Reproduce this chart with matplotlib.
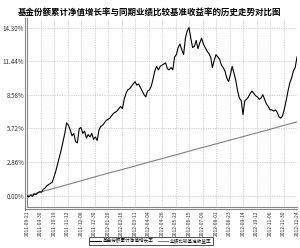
import numpy as np
import matplotlib
matplotlib.use("Agg")
import matplotlib.pyplot as plt
from matplotlib.lines import Line2D
import matplotlib.transforms as mtransforms

plt.rcParams['font.family'] = ['Noto Sans CJK SC', 'DejaVu Sans']

# trading-day index of every value below (one value every 2 trading days)
STEP = 2

# cumulative NAV growth of the fund share, %
fund = [
    0.00, -0.10, 0.05, -0.05, 0.15, 0.10, 0.25, 0.35, 0.30, 0.55,
    0.65, 0.85, 0.95, 1.05, 1.15, 1.6, 2.1, 2.7, 3.3, 3.9,
    4.6, 5.3, 6.2, 6.0, 5.6, 5.1, 5.3, 4.6, 4.5, 5.7,
    5.8, 5.3, 5.5, 4.9, 5.2, 5.0, 5.3, 4.8, 5.0, 4.7,
    5.6, 5.9, 6.0, 6.2, 6.4, 6.5, 6.6, 6.8, 7.0, 7.1,
    7.2, 7.4, 7.6, 7.4, 8.2, 8.7, 9.0, 9.1, 9.3, 9.5,
    9.7, 9.4, 9.5, 9.2, 8.9, 8.6, 8.4, 8.9, 9.0, 9.3,
    9.9, 10.6, 11.0, 10.7, 11.0, 11.1, 11.2, 11.3, 10.8, 10.7,
    10.9, 10.7, 11.8, 12.0, 12.6, 12.9, 12.4, 12.0, 13.4, 14.0,
    14.30, 13.4, 12.6, 12.7, 13.2, 12.5, 13.0, 13.4, 12.9, 12.6,
    12.3, 12.1, 11.8, 10.9, 11.5, 12.0, 11.8, 11.6, 11.1, 10.9,
    10.6, 10.0, 9.7, 10.3, 11.0, 10.4, 9.8, 8.9, 8.3, 8.1,
    6.9, 8.1, 8.2, 8.4, 8.7, 8.9, 8.7, 8.5, 8.4, 8.2,
    8.3, 8.6, 8.2, 7.8, 7.6, 7.3, 7.3, 7.2, 7.3, 7.1,
    6.7, 6.6, 6.8, 7.4, 8.1, 8.9, 9.6, 10.0, 10.6, 10.9,
    11.8,
]

# benchmark return, %, read at every tick date
TICK_STEP = 15
bench = [0.00, 0.32, 0.63, 0.95, 1.27, 1.60, 1.92, 2.22, 2.53, 2.85,
         3.16, 3.47, 3.79, 4.10, 4.41, 4.72, 5.03, 5.34, 5.65, 5.97, 6.28]

tick_labels = [
    "2011-09-21", "2011-09-30", "2011-10-19", "2011-11-12", "2011-12-08",
    "2011-12-30", "2012-01-20", "2012-02-16", "2012-03-11", "2012-04-04",
    "2012-04-26", "2012-05-23", "2012-06-15", "2012-07-09", "2012-08-01",
    "2012-08-23", "2012-09-14", "2012-10-12", "2012-11-06", "2012-11-30",
    "2012-12-24",
]
y_ticks = [0.00, 2.86, 5.72, 8.58, 11.44, 14.30]

fund_x = np.arange(len(fund)) * STEP
bench_x = np.arange(len(bench)) * TICK_STEP
tick_x = np.arange(len(tick_labels)) * TICK_STEP

fig = plt.figure(figsize=(3.0, 2.48), dpi=100, facecolor="white")
ax = fig.add_axes([0.09, 0.165, 0.90, 0.762])

ax.plot(bench_x, bench, color="#808080", lw=0.8, zorder=3)
ax.plot(fund_x, fund, color="black", lw=0.8, zorder=4)

ax.set_xlim(0, fund_x[-1])
ax.set_ylim(-0.96, 15.1)
ax.set_xticks(tick_x)
ax.set_xticklabels(tick_labels, rotation=90, fontsize=3.6, color="#333333")
ax.set_yticks(y_ticks)
ax.set_yticklabels([f"{v:.2f}%" for v in y_ticks], fontsize=4.5, color="#333333")
ax.tick_params(length=0, pad=2)
ax.tick_params(axis="x", pad=2.5)

ax.grid(True, color="#aaaaaa", linestyle=(0, (1, 1.5)), linewidth=0.5)

for side in ["top", "right"]:
    ax.spines[side].set_visible(False)
for side in ["left", "bottom"]:
    ax.spines[side].set_color("#888888")
    ax.spines[side].set_linewidth(0.8)

# second, offset line for the double axis look
off_l = ax.transAxes + mtransforms.ScaledTranslation(-2 / 100, 0, fig.dpi_scale_trans)
off_b = ax.transAxes + mtransforms.ScaledTranslation(0, -2 / 100, fig.dpi_scale_trans)
ax.add_line(Line2D([0, 0], [-0.013, 1], transform=off_l, color="#888888",
                   lw=0.8, clip_on=False))
ax.add_line(Line2D([-0.007, 1], [0, 0], transform=off_b, color="#888888",
                   lw=0.8, clip_on=False))

fig.text(0.5, 0.952, "基金份额累计净值增长率与同期业绩比较基准收益率的历史走势对比图",
         ha="center", va="center", fontsize=6.1, fontweight="bold")

handles = [Line2D([], [], color="black", lw=0.8),
           Line2D([], [], color="#808080", lw=0.8)]
leg = fig.legend(handles, ["基金份额累计净值增长率", "业绩比较基准收益率"],
                 loc="center", bbox_to_anchor=(0.503, 0.028), ncol=2,
                 fontsize=3.3, frameon=True, fancybox=False, handlelength=2.2,
                 handletextpad=0.4, columnspacing=1.0, borderpad=0.35)
leg.get_frame().set_edgecolor("black")
leg.get_frame().set_linewidth(0.6)

fig.savefig("out.png", dpi=100, facecolor="white")
